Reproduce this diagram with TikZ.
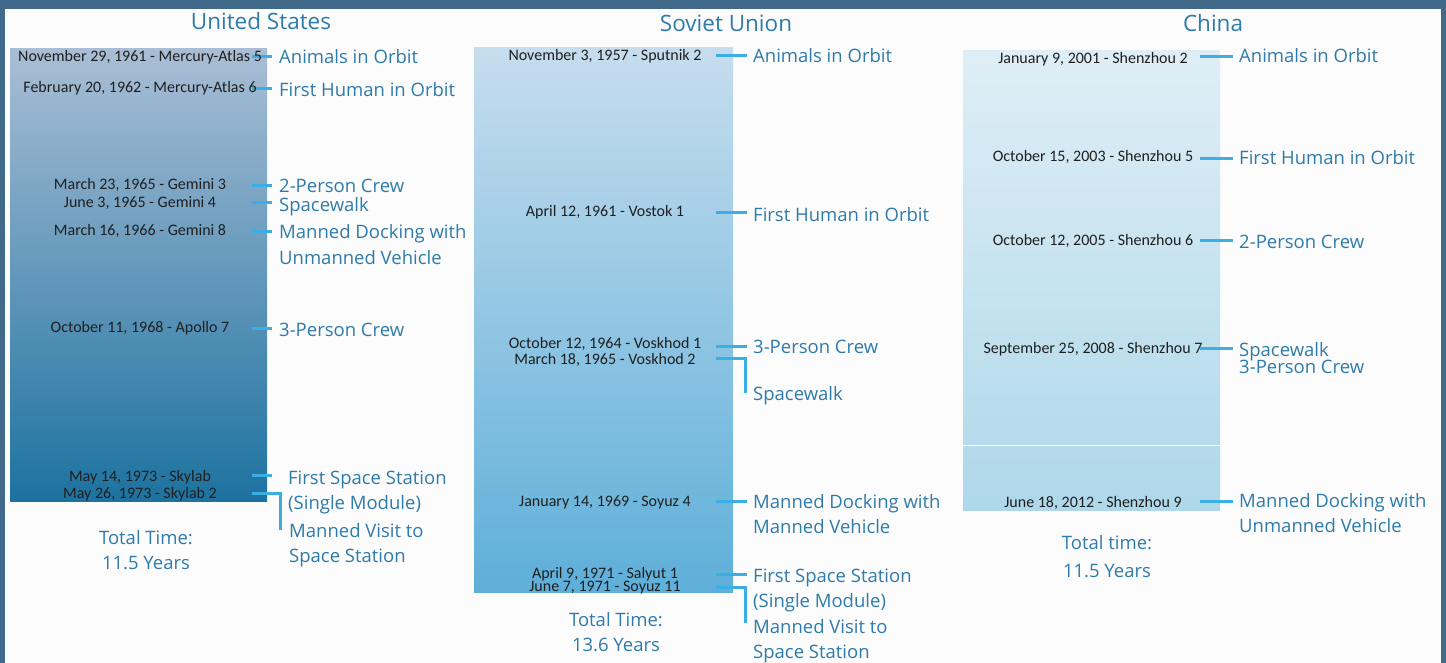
\documentclass[tikz,border=0pt]{standalone}
\usepackage{fontspec}
\setmainfont{Open Sans}
\newfontfamily\datefont{Carlito}
\usepackage{tikz}
\definecolor{framecol}{HTML}{41698A}
\definecolor{headblue}{HTML}{2E7BAB}
\definecolor{lineblue}{HTML}{3BAFE3}
\definecolor{ustop}{HTML}{A9BED5}
\definecolor{usbot}{HTML}{1D72A0}
\definecolor{sutop}{HTML}{C6DDEE}
\definecolor{subot}{HTML}{5EAFD9}
\definecolor{cntop}{HTML}{DFEEF6}
\definecolor{cnbot}{HTML}{AED8EA}
\tikzset{
  heading/.style={text=headblue,anchor=base,inner sep=0pt,font=\fontsize{22.5}{27}\selectfont},
  launch/.style={text=black!88,anchor=base,inner sep=0pt,font=\datefont\fontsize{16}{19}\selectfont},
  feat/.style={text=headblue,anchor=base west,inner ysep=0pt,inner xsep=7pt,align=left,font=\fontsize{18.5}{25.5}\selectfont},
  total/.style={text=headblue,anchor=base,inner sep=0pt,align=center,font=\fontsize{18.5}{25}\selectfont},
  tick/.style={draw=lineblue,line width=3pt},
}

\begin{document}
\begin{tikzpicture}[x=1pt,y=1pt]
            \useasboundingbox (0,0) rectangle (1446,-663);
            \fill[framecol] (0,0) rectangle (1446,-663);
            \fill[white!99!black] (5,-9) rectangle (1441,-663);
            % the three time bars
            \shade[top color=ustop,bottom color=usbot] (10,-49) rectangle (267,-501);
            \shade[top color=sutop,bottom color=subot] (474,-48) rectangle (733,-592);
            \shade[top color=cntop,bottom color=cnbot] (963,-51) rectangle (1220,-510);
            \draw[white,line width=1pt] (963,-445) -- (1220,-445);
            \node[heading] (ushead) at (261,-30) {United States};
            \node[heading] (suhead) at (726,-32) {Soviet Union};
            \node[heading] (cnhead) at (1213,-32) {China};
            % United States (base of a two-line label = its last line)
            \coordinate (us1) at (252,-57);
            \coordinate (us2) at (252,-89);
            \coordinate (us3) at (252,-186);
            \coordinate (us4) at (252,-203);
            \coordinate (us5) at (252,-232);
            \coordinate (us6) at (252,-328);
            \coordinate (us7) at (252,-475);
            \coordinate (us8) at (252,-493);
            \coordinate (us8e) at (280,-530);
            \node[feat] (usl1) at (272,-64) {Animals in Orbit};
            \node[feat] (usl2) at (272,-97) {First Human in Orbit};
            \node[feat] (usl3) at (272,-193) {2-Person Crew};
            \node[feat] (usl4) at (272,-212) {Spacewalk};
            \node[feat] (usl5) at (272,-264.5) {Manned Docking with\\Unmanned Vehicle};
            \node[feat] (usl6) at (272,-336) {3-Person Crew};
            \node[feat,inner xsep=16pt] (usl7) at (272,-509.5) {First Space Station\\(Single Module)};
            \node[feat] (usl8) at (282,-562.5) {Manned Visit to\\Space Station};
            \draw[tick] (us1) -- (us1 -| usl1.west);
            \draw[tick] (us2) -- (us2 -| usl2.west);
            \draw[tick] (us3) -- (us3 -| usl3.west);
            \draw[tick] (us4) -- (us4 -| usl4.west);
            \draw[tick] (us5) -- (us5 -| usl5.west);
            \draw[tick] (us6) -- (us6 -| usl6.west);
            \draw[tick] (us7) -- (us7 -| usl7.west);
            \draw[tick] (us8) -| (us8e);
            \node[launch] (usd1) at (140,-62) {November 29, 1961 - Mercury-Atlas 5};
            \node[launch] (usd2) at (140,-93) {February 20, 1962 - Mercury-Atlas 6};
            \node[launch] (usd3) at (140,-190) {March 23, 1965 - Gemini 3};
            \node[launch] (usd4) at (140,-208) {June 3, 1965 - Gemini 4};
            \node[launch] (usd5) at (140,-236) {March 16, 1966 - Gemini 8};
            \node[launch] (usd6) at (140,-332) {October 11, 1968 - Apollo 7};
            \node[launch] (usd7) at (140,-481) {May 14, 1973 - Skylab};
            \node[launch] (usd8) at (140,-498) {May 26, 1973 - Skylab 2};
            \node[total] (ustot) at (146,-569) {Total Time:\\11.5 Years};
            % Soviet Union
            \coordinate (su1) at (716,-56);
            \coordinate (su2) at (716,-213);
            \coordinate (su3) at (716,-346);
            \coordinate (su4) at (716,-358);
            \coordinate (su4e) at (745,-393);
            \coordinate (su5) at (716,-501);
            \coordinate (su6) at (716,-574);
            \coordinate (su7) at (716,-587);
            \coordinate (su7e) at (745,-623);
            \node[feat,inner xsep=6pt] (sul1) at (747,-63) {Animals in Orbit};
            \node[feat,inner xsep=6pt] (sul2) at (747,-222) {First Human in Orbit};
            \node[feat,inner xsep=6pt] (sul3) at (747,-353) {3-Person Crew};
            \node[feat,inner xsep=6pt] (sul4) at (747,-400) {Spacewalk};
            \node[feat,inner xsep=6pt] (sul5) at (747,-533.5) {Manned Docking with\\Manned Vehicle};
            \node[feat,inner xsep=6pt] (sul6) at (747,-607.5) {First Space Station\\(Single Module)};
            \node[feat,inner xsep=6pt] (sul7) at (747,-658.5) {Manned Visit to\\Space Station};
            \draw[tick] (su1) -- (su1 -| sul1.west);
            \draw[tick] (su2) -- (su2 -| sul2.west);
            \draw[tick] (su3) -- (su3 -| sul3.west);
            \draw[tick] (su4) -| (su4e);
            \draw[tick] (su5) -- (su5 -| sul5.west);
            \draw[tick] (su6) -- (su6 -| sul6.west);
            \draw[tick] (su7) -| (su7e);
            \node[launch] (sud1) at (605,-61) {November 3, 1957 - Sputnik 2};
            \node[launch] (sud2) at (605,-217) {April 12, 1961 - Vostok 1};
            \node[launch] (sud3) at (605,-348) {October 12, 1964 - Voskhod 1};
            \node[launch] (sud4) at (605,-364) {March 18, 1965 - Voskhod 2};
            \node[launch] (sud5) at (605,-506) {January 14, 1969 - Soyuz 4};
            \node[launch] (sud6) at (605,-578) {April 9, 1971 - Salyut 1};
            \node[launch] (sud7) at (605,-591) {June 7, 1971 - Soyuz 11};
            \node[total] (sutot) at (616,-651) {Total Time:\\13.6 Years};
            % China
            \coordinate (cn1) at (1200,-57);
            \coordinate (cn2) at (1200,-159);
            \coordinate (cn3) at (1200,-241);
            \coordinate (cn4) at (1200,-348);
            \coordinate (cn5) at (1200,-501);
            \node[feat,inner xsep=6pt] (cnl1) at (1233,-63) {Animals in Orbit};
            \node[feat,inner xsep=6pt] (cnl2) at (1233,-165) {First Human in Orbit};
            \node[feat,inner xsep=6pt] (cnl3) at (1233,-248) {2-Person Crew};
            \node[feat,inner xsep=6pt] (cnl4) at (1233,-373) {Spacewalk\\[-8.5pt]3-Person Crew};
            \node[feat,inner xsep=6pt] (cnl5) at (1233,-532.5) {Manned Docking with\\Unmanned Vehicle};
            \draw[tick] (cn1) -- (cn1 -| cnl1.west);
            \draw[tick] (cn2) -- (cn2 -| cnl2.west);
            \draw[tick] (cn3) -- (cn3 -| cnl3.west);
            \draw[tick] (cn4) -- (cn4 -| cnl4.west);
            \draw[tick] (cn5) -- (cn5 -| cnl5.west);
            \node[launch] (cnd1) at (1093,-64) {January 9, 2001 - Shenzhou 2};
            \node[launch] (cnd2) at (1093,-162) {October 15, 2003 - Shenzhou 5};
            \node[launch] (cnd3) at (1093,-246) {October 12, 2005 - Shenzhou 6};
            \node[launch] (cnd4) at (1093,-353) {September 25, 2008 - Shenzhou 7};
            \node[launch] (cnd5) at (1093,-507) {June 18, 2012 - Shenzhou 9};
            \node[total] (cntot) at (1107,-577) {Total time:\\[3pt]11.5 Years};
          \end{tikzpicture}
\end{document}
